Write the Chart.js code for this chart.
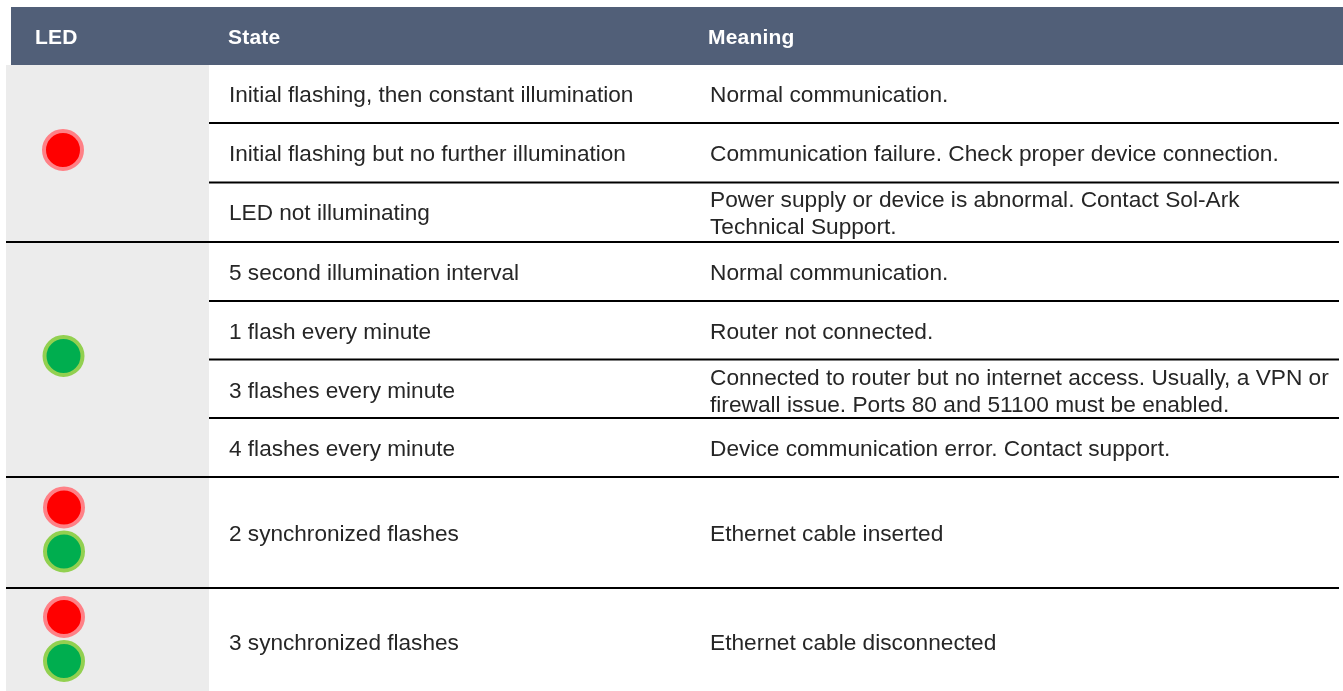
<!DOCTYPE html>
<html><head><meta charset="utf-8">
<style>html,body{margin:0;padding:0;background:#fff}canvas{display:block}</style>
<script src="https://cdn.jsdelivr.net/npm/chart.js@4/dist/chart.umd.min.js"></script>
</head><body><canvas id="c" width="1343" height="691"></canvas>
<script>
const headers = ["LED","State","Meaning"];
const headerX = [35,228,708];
const states = ["Initial flashing, then constant illumination","Initial flashing but no further illumination","LED not illuminating","5 second illumination interval","1 flash every minute","3 flashes every minute","4 flashes every minute","2 synchronized flashes","3 synchronized flashes"];
const meanings = [["Normal communication."],["Communication failure. Check proper device connection."],["Power supply or device is abnormal. Contact Sol-Ark","Technical Support."],["Normal communication."],["Router not connected."],["Connected to router but no internet access. Usually, a VPN or","firewall issue. Ports 80 and 51100 must be enabled."],["Device communication error. Contact support."],["Ethernet cable inserted"],["Ethernet cable disconnected"]];
const rowY = [96,155,214,274,333,392,450,535,644];
const shortRules = [123,182.5,301,359.5,418];
const fullRules = [242,477,588];
const redLeds = [{x:63,y:150},{x:64,y:507.5},{x:64,y:617}];
const greenLeds = [{x:63.5,y:356},{x:64,y:551.5},{x:64,y:661}];

const tablePlugin = {
  id:'table',
  beforeDatasetsDraw(ch){
    const c=ch.ctx, X=ch.scales.x, Y=ch.scales.y;
    const rect=(x0,y0,x1,y1,col)=>{c.fillStyle=col;c.fillRect(X.getPixelForValue(x0),Y.getPixelForValue(y0),X.getPixelForValue(x1)-X.getPixelForValue(x0),Y.getPixelForValue(y1)-Y.getPixelForValue(y0));};
    c.save();
    rect(11,7,1343,65,'#515f78');
    rect(6,65,209,691,'#ececec');
    shortRules.forEach(y=>rect(209,y-1,1339,y+1,'#000'));
    fullRules.forEach(y=>rect(6,y-1,1339,y+1,'#000'));
    c.textBaseline='middle';c.textAlign='left';
    c.fillStyle='#fff';c.font='bold 21px "Liberation Sans"';c.letterSpacing='0.2px';
    headers.forEach((h,i)=>c.fillText(h,X.getPixelForValue(headerX[i]),Y.getPixelForValue(38)));
    c.letterSpacing='0px';
    c.fillStyle='#262626';c.font='22.6px "Liberation Sans"';
    states.forEach((s,i)=>c.fillText(s,X.getPixelForValue(229),Y.getPixelForValue(rowY[i])));
    c.font='22.7px "Liberation Sans"';
    meanings.forEach((m,i)=>m.forEach((t,j)=>{
      const y=rowY[i]+(m.length>1?(j===0?-13:13.5):0);
      c.fillText(t,X.getPixelForValue(710),Y.getPixelForValue(y));
    }));
    c.restore();
  }
};
new Chart(document.getElementById('c'),{
  type:'scatter',
  data:{datasets:[
    {label:'Red LED',data:redLeds,pointRadius:19,pointHoverRadius:19,pointBackgroundColor:'#ff0000',pointBorderColor:'#ff8086',pointBorderWidth:4},
    {label:'Green LED',data:greenLeds,pointRadius:19,pointHoverRadius:19,pointBackgroundColor:'#00ae4f',pointBorderColor:'#92d050',pointBorderWidth:4}
  ]},
  options:{responsive:false,animation:false,layout:{padding:0,autoPadding:false},
    plugins:{legend:{display:false},tooltip:{enabled:false}},
    scales:{x:{type:'linear',min:0,max:1343,display:false},y:{type:'linear',min:0,max:691,reverse:true,display:false}}},
  plugins:[tablePlugin]
});
</script></body></html>
